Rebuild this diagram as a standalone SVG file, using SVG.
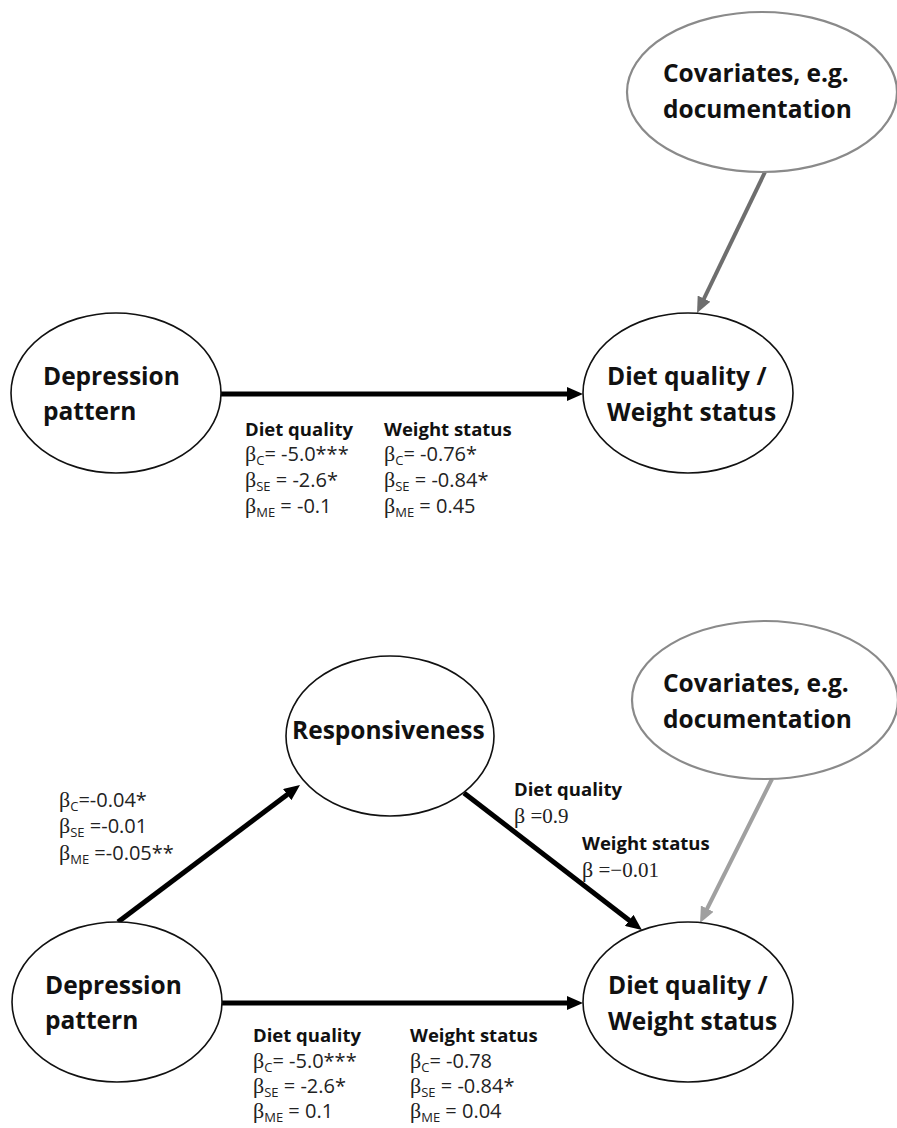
<svg xmlns="http://www.w3.org/2000/svg" width="897" height="1128" viewBox="0 0 897 1128">
<defs>
<style>
.node{fill:#fff;stroke:#111;stroke-width:1.6}
.cov{fill:#fff;stroke:#8a8a8a;stroke-width:2.2}
.lbl{font-family:"Open Sans","Liberation Sans",sans-serif;font-weight:700;font-size:24.5px;fill:#111}
.hd{font-family:"Open Sans","Liberation Sans",sans-serif;font-weight:700;font-size:18.5px;fill:#111}
.num{font-family:"Open Sans","Liberation Sans",sans-serif;font-size:20px;fill:#222}
.b{font-family:"Liberation Serif",serif;font-size:22px}
.sub{font-size:13px}
.ser{font-family:"Liberation Serif",serif;font-size:21px;fill:#222}
.arr{stroke:#000;stroke-width:5;fill:none}
.g1{stroke:#6e6e6e;stroke-width:4;fill:none}
.g2{stroke:#a0a0a0;stroke-width:4;fill:none}
</style>
<marker id="ah" markerUnits="userSpaceOnUse" viewBox="0 0 16 14" refX="6" refY="7" markerWidth="16" markerHeight="14" orient="auto"><path d="M0,0 L16,7 L0,14 Z" fill="#000"/></marker>
<marker id="ag1" markerUnits="userSpaceOnUse" viewBox="0 0 16 14" refX="6" refY="7" markerWidth="16" markerHeight="14" orient="auto"><path d="M0,0 L16,7 L0,14 Z" fill="#6e6e6e"/></marker>
<marker id="ag2" markerUnits="userSpaceOnUse" viewBox="0 0 16 14" refX="6" refY="7" markerWidth="16" markerHeight="14" orient="auto"><path d="M0,0 L16,7 L0,14 Z" fill="#a0a0a0"/></marker>
</defs>
<rect width="897" height="1128" fill="#fff"/>

<g id="connectors">
<line class="arr" x1="221" y1="394" x2="573" y2="394" marker-end="url(#ah)"/>
<line class="g1" x1="765" y1="172" x2="701.4" y2="304" marker-end="url(#ag1)"/>
<line class="arr" x1="118" y1="922" x2="292" y2="791" marker-end="url(#ah)"/>
<line class="arr" x1="464" y1="793" x2="634" y2="924" marker-end="url(#ah)"/>
<line class="arr" x1="222" y1="1003" x2="573" y2="1003" marker-end="url(#ah)"/>
<line class="g2" x1="772" y1="779" x2="704.5" y2="914" marker-end="url(#ag2)"/>
</g>

<g id="cov1">
<ellipse class="cov" cx="762" cy="92" rx="135" ry="80"/>
<text class="lbl" x="663" y="82">Covariates, e.g.</text>
<text class="lbl" x="663" y="118">documentation</text>
</g>
<g id="dep1">
<ellipse class="node" cx="116" cy="393" rx="105" ry="80"/>
<text class="lbl" x="43" y="385">Depression</text>
<text class="lbl" x="43" y="420">pattern</text>
</g>
<g id="diet1">
<ellipse class="node" cx="688" cy="393" rx="105" ry="80"/>
<text class="lbl" x="607" y="385">Diet quality /</text>
<text class="lbl" x="607" y="421">Weight status</text>
</g>

<g id="coef1">
<text class="hd" x="245" y="436">Diet quality</text>
<text class="num" x="245" y="461"><tspan class="b">β</tspan><tspan class="sub" dy="4">C</tspan><tspan dy="-4">= -5.0***</tspan></text>
<text class="num" x="245" y="487"><tspan class="b">β</tspan><tspan class="sub" dy="4">SE</tspan><tspan dy="-4"> = -2.6*</tspan></text>
<text class="num" x="245" y="513"><tspan class="b">β</tspan><tspan class="sub" dy="4">ME</tspan><tspan dy="-4"> = -0.1</tspan></text>
<text class="hd" x="384" y="436">Weight status</text>
<text class="num" x="384" y="461"><tspan class="b">β</tspan><tspan class="sub" dy="4">C</tspan><tspan dy="-4">= -0.76*</tspan></text>
<text class="num" x="384" y="487"><tspan class="b">β</tspan><tspan class="sub" dy="4">SE</tspan><tspan dy="-4"> = -0.84*</tspan></text>
<text class="num" x="384" y="513"><tspan class="b">β</tspan><tspan class="sub" dy="4">ME</tspan><tspan dy="-4"> = 0.45</tspan></text>
</g>

<g id="resp">
<ellipse class="node" cx="390" cy="736" rx="104" ry="80"/>
<text class="lbl" x="292" y="739">Responsiveness</text>
</g>
<g id="cov2">
<ellipse class="cov" cx="765" cy="700" rx="133" ry="79"/>
<text class="lbl" x="663" y="692">Covariates, e.g.</text>
<text class="lbl" x="663" y="728">documentation</text>
</g>
<g id="dep2">
<ellipse class="node" cx="117" cy="1002" rx="105" ry="80"/>
<text class="lbl" x="45" y="994">Depression</text>
<text class="lbl" x="45" y="1029">pattern</text>
</g>
<g id="diet2">
<ellipse class="node" cx="688" cy="1002" rx="105" ry="80"/>
<text class="lbl" x="608" y="994">Diet quality /</text>
<text class="lbl" x="608" y="1030">Weight status</text>
</g>

<g id="coef-a">
<text class="num" x="59" y="807"><tspan class="b">β</tspan><tspan class="sub" dy="4">C</tspan><tspan dy="-4">=-0.04*</tspan></text>
<text class="num" x="59" y="833"><tspan class="b">β</tspan><tspan class="sub" dy="4">SE</tspan><tspan dy="-4"> =-0.01</tspan></text>
<text class="num" x="59" y="860"><tspan class="b">β</tspan><tspan class="sub" dy="4">ME</tspan><tspan dy="-4"> =-0.05**</tspan></text>
</g>
<g id="coef-b">
<text class="hd" x="514" y="796">Diet quality</text>
<text class="ser" x="514" y="823"><tspan class="b">β</tspan> =0.9</text>
<text class="hd" x="582" y="850">Weight status</text>
<text class="ser" x="582" y="877"><tspan class="b">β</tspan> =−0.01</text>
</g>
<g id="coef2">
<text class="hd" x="253" y="1042">Diet quality</text>
<text class="num" x="253" y="1068"><tspan class="b">β</tspan><tspan class="sub" dy="4">C</tspan><tspan dy="-4">= -5.0***</tspan></text>
<text class="num" x="253" y="1093"><tspan class="b">β</tspan><tspan class="sub" dy="4">SE</tspan><tspan dy="-4"> = -2.6*</tspan></text>
<text class="num" x="253" y="1118"><tspan class="b">β</tspan><tspan class="sub" dy="4">ME</tspan><tspan dy="-4"> = 0.1</tspan></text>
<text class="hd" x="410" y="1042">Weight status</text>
<text class="num" x="410" y="1068"><tspan class="b">β</tspan><tspan class="sub" dy="4">C</tspan><tspan dy="-4">= -0.78</tspan></text>
<text class="num" x="410" y="1093"><tspan class="b">β</tspan><tspan class="sub" dy="4">SE</tspan><tspan dy="-4"> = -0.84*</tspan></text>
<text class="num" x="410" y="1118"><tspan class="b">β</tspan><tspan class="sub" dy="4">ME</tspan><tspan dy="-4"> = 0.04</tspan></text>
</g>
</svg>
